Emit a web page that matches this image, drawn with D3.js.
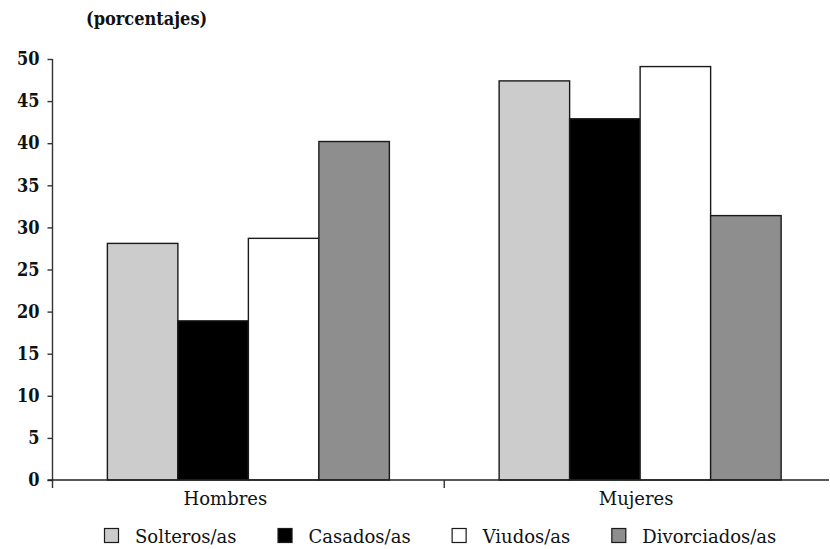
<!DOCTYPE html>
<html>
<head>
<meta charset="utf-8">
<script src="https://cdn.jsdelivr.net/npm/d3@7"></script>
<style>
  html, body { margin: 0; padding: 0; background: #fff; }
  svg { display: block; }
</style>
</head>
<body>
<svg id="chart" width="830" height="549"></svg>
<script>
// Groups along the x axis
const categories = ["Hombres", "Mujeres"];
// Marital status series
const seriesNames = ["Solteros/as", "Casados/as", "Viudos/as", "Divorciados/as"];
const seriesColors = ["#cccccc", "#000000", "#ffffff", "#8e8e8e"];
// Percentages per series, one value per category
const solteros = [28.1, 47.4];
const casados = [18.9, 42.9];
const viudos = [28.7, 49.1];
const divorciados = [40.2, 31.4];
const yTicks = [0, 5, 10, 15, 20, 25, 30, 35, 40, 45, 50];
const unitLabel = "(porcentajes)";

const seriesValues = [solteros, casados, viudos, divorciados];

const svg = d3.select("#chart");
const plotLeft = 52.5, plotTop = 59, plotBottom = 480, plotRight = 836;

const y = d3.scaleLinear().domain([0, 50]).range([plotBottom, plotTop]);
const x0 = d3.scaleBand().domain(categories).range([plotLeft, plotRight]).paddingInner(0).paddingOuter(0);
const inner = 282;
const x1 = d3.scaleBand().domain(seriesNames).range([0, inner]).padding(0);

const serif = "'DejaVu Serif', serif";

// Bars
const groups = svg.append("g").selectAll("g")
  .data(categories)
  .join("g")
  .attr("transform", c => `translate(${x0(c) + (x0.bandwidth() - inner) / 2},0)`);

groups.selectAll("rect")
  .data((c, ci) => seriesNames.map((s, si) => ({ s, si, v: seriesValues[si][ci] })))
  .join("rect")
  .attr("x", d => x1(d.s))
  .attr("y", d => y(d.v))
  .attr("width", x1.bandwidth())
  .attr("height", d => y(0) - y(d.v))
  .attr("fill", d => seriesColors[d.si])
  .attr("stroke", "#1a1a1a")
  .attr("stroke-width", 1.4);

// Y axis
const yAxis = svg.append("g")
  .attr("transform", `translate(${plotLeft},0)`)
  .call(d3.axisLeft(y).tickValues(yTicks).tickSize(5).tickPadding(8).tickSizeOuter(0));
yAxis.select(".domain").attr("d", `M0,${plotTop}V${plotBottom + 8}`).attr("stroke", "#333").attr("stroke-width", 1.4);
yAxis.selectAll(".tick line").attr("stroke", "#333").attr("stroke-width", 1.4);
yAxis.selectAll(".tick text")
  .attr("font-family", serif)
  .attr("font-weight", "bold")
  .attr("font-stretch", "condensed")
  .attr("font-size", 18)
  .attr("fill", "#111");

// X axis baseline and category separator
const xAxis = svg.append("g").attr("transform", `translate(0,${plotBottom})`);
xAxis.append("line")
  .attr("x1", plotLeft - 5).attr("x2", 829)
  .attr("stroke", "#222").attr("stroke-width", 1.6);
xAxis.selectAll("line.sep")
  .data(categories.slice(1))
  .join("line")
  .attr("class", "sep")
  .attr("x1", c => x0(c)).attr("x2", c => x0(c))
  .attr("y1", 0).attr("y2", 8)
  .attr("stroke", "#333").attr("stroke-width", 1.4);

// Category labels
const labelShift = [-23, -4];
xAxis.selectAll("text")
  .data(categories)
  .join("text")
  .attr("x", (c, i) => x0(c) + x0.bandwidth() / 2 + labelShift[i])
  .attr("y", 25)
  .attr("text-anchor", "middle")
  .attr("font-family", serif)
  .attr("font-size", 18)
  .attr("fill", "#111")
  .text(c => c);

// Unit label
svg.append("text")
  .attr("x", 86)
  .attr("y", 25)
  .attr("font-family", serif)
  .attr("font-weight", "bold")
  .attr("font-stretch", "condensed")
  .attr("font-size", 18)
  .attr("fill", "#111")
  .text(unitLabel);

// Legend
const legend = svg.append("g").attr("transform", "translate(104,543)");
let cursor = 0;
seriesNames.forEach((name, i) => {
  const item = legend.append("g").attr("transform", `translate(${cursor},0)`);
  item.append("rect")
    .attr("x", 0.5).attr("y", -14.5)
    .attr("width", 14).attr("height", 14)
    .attr("fill", seriesColors[i])
    .attr("stroke", "#1a1a1a").attr("stroke-width", 1.2);
  const t = item.append("text")
    .attr("x", 31).attr("y", 0)
    .attr("font-family", serif)
    .attr("font-size", 18)
    .attr("fill", "#111")
    .text(name);
  cursor += 31 + t.node().getComputedTextLength() + 41;
});
</script>
</body>
</html>
